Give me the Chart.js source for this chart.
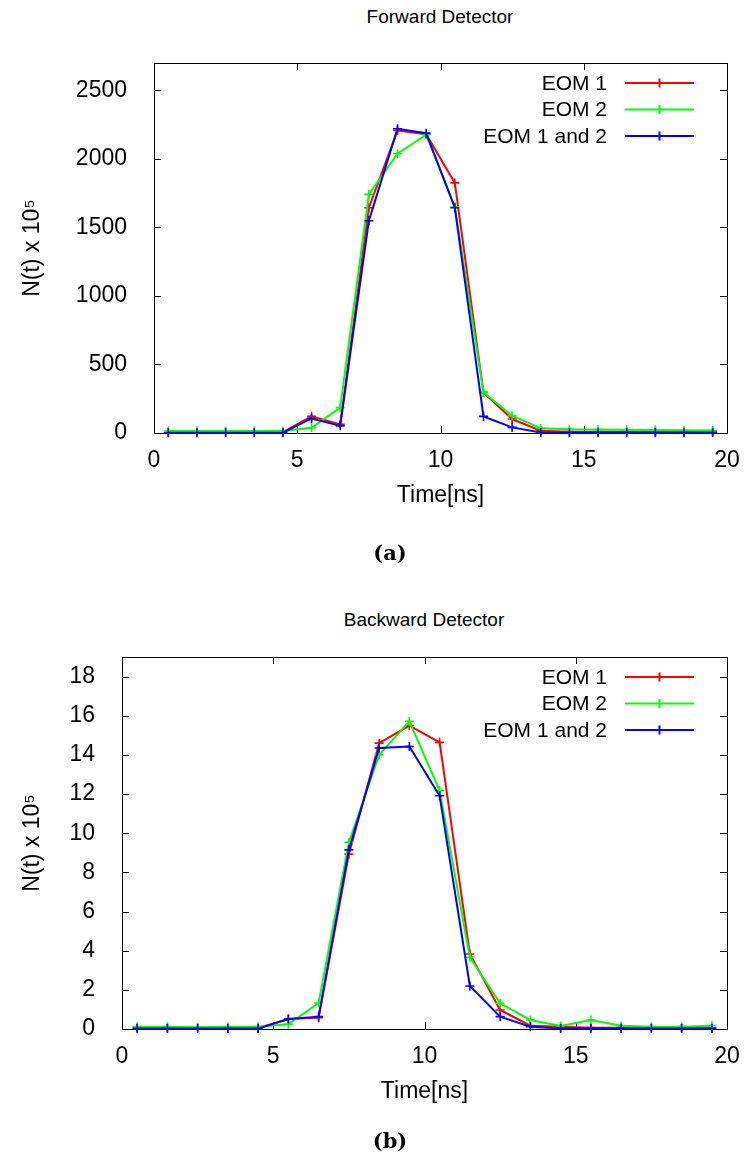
<!DOCTYPE html>
<html lang="en">
<head>
    <meta charset="UTF-8">
    <title>Forward / Backward Detector</title>
    <script src="https://cdn.jsdelivr.net/npm/chart.js"></script>
    <style>
        body { margin: 0; background: #fff; font-family: 'Liberation Sans', Arial, sans-serif; }
        #page { position: relative; width: 748px; height: 1164px; }
        .box { position: absolute; left: 0; width: 748px; }
        .title { position: absolute; transform: translateX(-50%); font-size: 19px; line-height: 22px; white-space: nowrap; color: #000; }
        .caption { position: absolute; transform: translateX(-50%); font-family: 'DejaVu Serif', serif; font-weight: bold; font-size: 21px; line-height: 24px; }
    </style>
</head>
<body>
<div id="page">
    <div class="title" style="left:440px; top:6px;">Forward Detector</div>
    <div class="box" style="top:0; height:580px;"><canvas id="forwardChart" width="748" height="580"></canvas></div>
    <div class="caption" style="left:390px; top:541px;">(a)</div>

    <div class="title" style="left:424px; top:609px;">Backward Detector</div>
    <div class="box" style="top:580px; height:584px;"><canvas id="backwardChart" width="748" height="584"></canvas></div>
    <div class="caption" style="left:390px; top:1129px;">(b)</div>
</div>

<script>
    Chart.defaults.font.family = "'Liberation Sans', Arial, sans-serif";
    Chart.defaults.color = '#000';

    // --- data (time bins, N(t) x 10^5) ---
    const times = [0.5, 1.5, 2.5, 3.5, 4.5, 5.5, 6.5, 7.5, 8.5, 9.5, 10.5, 11.5, 12.5, 13.5, 14.5, 15.5, 16.5, 17.5, 18.5, 19.5];
    const seriesLabels = ['EOM 1', 'EOM 2', 'EOM 1 and 2'];
    const seriesColors = ['#ff0000', '#00ff00', '#0000ff'];

    const xTicks = [0, 5, 10, 15, 20];
    const fwdYTicks = [0, 500, 1000, 1500, 2000, 2500];
    const bwdYTicks = [0, 2, 4, 6, 8, 10, 12, 14, 16, 18];

    const fwdEom1  = [6, 6, 6, 6, 6, 122, 63, 1644, 2208, 2180, 1825, 295, 102, 17, 10, 10, 10, 9, 8, 8];
    const fwdEom2  = [15, 15, 15, 15, 15, 38, 185, 1741, 2038, 2177, 1651, 298, 126, 34, 27, 25, 24, 22, 20, 18];
    const fwdEom12 = [2, 2, 2, 2, 2, 106, 52, 1549, 2220, 2188, 1644, 121, 41, 3, 2, 2, 2, 2, 2, 2];

    const bwdEom1  = [0.07, 0.07, 0.05, 0.05, 0.05, 0.51, 0.58, 8.93, 14.6, 15.5, 14.64, 3.83, 0.97, 0.17, 0.12, 0.07, 0.07, 0.05, 0.05, 0.05];
    const bwdEom2  = [0.12, 0.12, 0.09, 0.12, 0.12, 0.24, 1.33, 9.53, 14.0, 15.71, 12.18, 3.66, 1.31, 0.46, 0.15, 0.46, 0.17, 0.12, 0.12, 0.17];
    const bwdEom12 = [0.02, 0.02, 0.02, 0.02, 0.02, 0.51, 0.63, 9.15, 14.35, 14.43, 11.91, 2.2, 0.63, 0.12, 0.03, 0.03, 0.03, 0.03, 0.03, 0.03];

    // frame + inward ticks on all four sides (gnuplot look)
    const frameTicks = {
        id: 'frameTicks',
        beforeDatasetsDraw(chart) {
            const { ctx, chartArea: a, scales } = chart;
            const len = 7;
            ctx.save();
            ctx.strokeStyle = '#000';
            ctx.lineWidth = 1;
            ctx.beginPath();
            scales.x.ticks.forEach(t => {
                const px = Math.round(scales.x.getPixelForValue(t.value)) + 0.5;
                ctx.moveTo(px, a.bottom); ctx.lineTo(px, a.bottom - len);
                ctx.moveTo(px, a.top); ctx.lineTo(px, a.top + len);
            });
            scales.y.ticks.forEach(t => {
                const py = Math.round(scales.y.getPixelForValue(t.value)) + 0.5;
                ctx.moveTo(a.left, py); ctx.lineTo(a.left + len, py);
                ctx.moveTo(a.right, py); ctx.lineTo(a.right - len, py);
            });
            ctx.stroke();
            ctx.strokeRect(Math.round(a.left) + 0.5, Math.round(a.top) + 0.5, Math.round(a.right - a.left), Math.round(a.bottom - a.top));
            ctx.restore();
        }
    };

    // key inside the plot, top right
    const insideLegend = {
        id: 'insideLegend',
        afterDatasetsDraw(chart) {
            const { ctx, chartArea: a } = chart;
            ctx.save();
            ctx.font = "21px 'Liberation Sans', Arial, sans-serif";
            ctx.textAlign = 'right';
            ctx.textBaseline = 'middle';
            chart.data.datasets.forEach((ds, i) => {
                const y = a.top + 20 + i * 26.5;
                ctx.fillStyle = '#000';
                ctx.fillText(ds.label, 607, y + 1);
                ctx.strokeStyle = ds.borderColor;
                ctx.lineWidth = 2;
                ctx.beginPath();
                ctx.moveTo(625, y); ctx.lineTo(694, y);
                ctx.moveTo(659.5, y - 4.5); ctx.lineTo(659.5, y + 4.5);
                ctx.stroke();
            });
            ctx.restore();
        }
    };

    function makeChart(id, series, yMax, yTicks, axisWidth, padTop, padBottom) {
        const datasets = series.map((vals, i) => ({
            label: seriesLabels[i],
            data: times.map((t, k) => ({ x: t, y: vals[k] })),
            borderColor: seriesColors[i],
            backgroundColor: seriesColors[i],
            borderWidth: 2,
            pointStyle: 'cross',
            pointRadius: 4.5,
            pointBorderWidth: 1.6,
            tension: 0,
            clip: false,
            order: 2 - i
        }));

        return new Chart(document.getElementById(id), {
            type: 'line',
            data: { datasets: datasets },
            options: {
                responsive: false,
                animation: false,
                layout: { padding: { top: padTop, right: 21, bottom: padBottom, left: 0 } },
                plugins: { legend: { display: false }, tooltip: { enabled: false } },
                scales: {
                    x: {
                        type: 'linear', min: 0, max: 20,
                        grid: { display: false }, border: { display: false },
                        afterBuildTicks: s => { s.ticks = xTicks.map(v => ({ value: v })); },
                        ticks: { padding: 6, font: { size: 23 }, callback: v => String(v) },
                        title: { display: true, text: 'Time[ns]', font: { size: 23 }, padding: { top: 0, bottom: 6 } },
                        afterFit: s => { s.height = 82; }
                    },
                    y: {
                        type: 'linear', min: 0, max: yMax,
                        grid: { display: false }, border: { display: false },
                        afterBuildTicks: s => { s.ticks = yTicks.map(v => ({ value: v })); },
                        ticks: { padding: 19, font: { size: 23 }, callback: v => String(v) },
                        title: { display: true, text: 'N(t) x 10⁵', font: { size: 23 }, padding: { top: 19, bottom: 0 } },
                        afterFit: s => { s.width = axisWidth; }
                    }
                }
            },
            plugins: [frameTicks, insideLegend]
        });
    }

    // (a) forward: plot box 154..727 x 63..433
    makeChart('forwardChart', [fwdEom1, fwdEom2, fwdEom12], 2700, fwdYTicks, 154, 63, 580 - 433 - 82);
    // (b) backward: plot box 122..727 x 657..1029 (canvas starts at 580)
    makeChart('backwardChart', [bwdEom1, bwdEom2, bwdEom12], 19, bwdYTicks, 122, 77, 584 - 449 - 82);
</script>
</body>
</html>
